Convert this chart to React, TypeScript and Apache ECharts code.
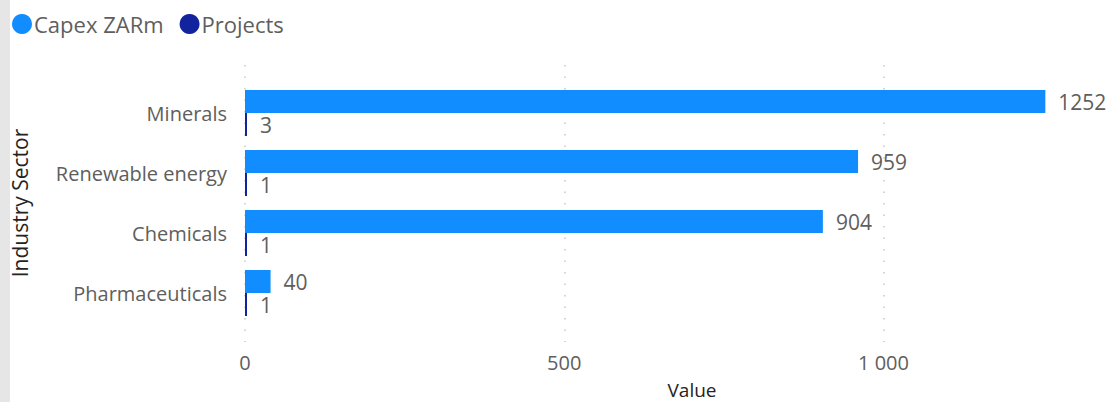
import React, { useEffect, useRef } from "react";
import * as echarts from "echarts";

const categories = ["Minerals", "Renewable energy", "Chemicals", "Pharmaceuticals"];
const capexValues = [1252, 959, 904, 40];
const projectValues = [3, 1, 1, 1];
const seriesNames = ["Capex ZARm", "Projects"];
const xTicks = [0, 500, 1000];

const FONT = "'Open Sans', 'Noto Sans', sans-serif";
const LABEL = "#605E5C";
const TITLE = "#252423";

export default function App() {
  const ref = useRef<HTMLDivElement>(null);
  useEffect(() => {
    document.body.style.margin = "0";
    const chart = echarts.init(ref.current!, null, { renderer: "svg" });
    const fmt = (v: number) => String(v).replace(/\B(?=(\d{3})+(?!\d))/g, " ");
    chart.setOption({
      animation: false,
      textStyle: { fontFamily: FONT },
      legend: {
        left: 7,
        top: 8,
        icon: "circle",
        itemWidth: 20,
        itemHeight: 20,
        itemGap: 16,
        data: seriesNames,
        textStyle: { fontSize: 22, color: LABEL, fontFamily: FONT, padding: [0, 0, 0, -3] },
      },
      graphic: [
        { type: "rect", left: 0, top: 0, shape: { width: 10, height: 402 }, style: { fill: "#E6E6E6" }, silent: true },
        {
          type: "text",
          x: 20,
          y: 203,
          rotation: Math.PI / 2,
          style: { text: "Industry Sector", fontSize: 21, fontFamily: FONT, fill: TITLE, align: "center", verticalAlign: "middle" },
        },
        {
          type: "text",
          x: 692,
          y: 390,
          style: { text: "Value", fontSize: 19, fontFamily: FONT, fill: TITLE, align: "center", verticalAlign: "middle" },
        },
      ],
      grid: [
        { left: 245, right: 2, top: 83, height: 240 },
        { left: 245, right: 2, top: 65, height: 277 },
      ],
      xAxis: [
        { gridIndex: 0, type: "value", min: 0, max: 1350, interval: 500, axisLine: { show: false }, axisTick: { show: false }, axisLabel: { show: false }, splitLine: { show: false } },
        {
          gridIndex: 1,
          type: "value",
          min: 0,
          max: 1350,
          interval: 500,
          axisLine: { show: false },
          axisTick: { show: false },
          axisLabel: {
            margin: 10,
            fontSize: 20,
            color: LABEL,
            fontFamily: FONT,
            formatter: (v: number) => (xTicks.includes(v) ? fmt(v) : ""),
          },
          splitLine: { show: true, showMaxLine: false, lineStyle: { color: "#C8C8C8", width: 1.5, type: [1.5, 10] } },
        },
      ],
      yAxis: [
        {
          gridIndex: 0,
          type: "category",
          inverse: true,
          data: categories,
          axisLine: { show: false },
          axisTick: { show: false },
          axisLabel: { margin: 18, fontSize: 20, color: LABEL, fontFamily: FONT },
        },
        { gridIndex: 1, type: "value", show: false },
      ],
      series: [
        {
          name: seriesNames[0],
          type: "bar",
          xAxisIndex: 0,
          yAxisIndex: 0,
          data: capexValues,
          barWidth: 23,
          barGap: "0%",
          itemStyle: { color: "#118DFF" },
          label: { show: true, position: "right", distance: 13, fontSize: 21, color: LABEL, fontFamily: FONT },
        },
        {
          name: seriesNames[1],
          type: "bar",
          xAxisIndex: 0,
          yAxisIndex: 0,
          data: projectValues,
          barWidth: 23,
          barGap: "0%",
          barMinHeight: 2,
          itemStyle: { color: "#12239E" },
          label: { show: true, position: "right", distance: 13, fontSize: 21, color: LABEL, fontFamily: FONT },
        },
      ],
    });
    return () => chart.dispose();
  }, []);
  return <div ref={ref} style={{ width: 1110, height: 402 }} />;
}
